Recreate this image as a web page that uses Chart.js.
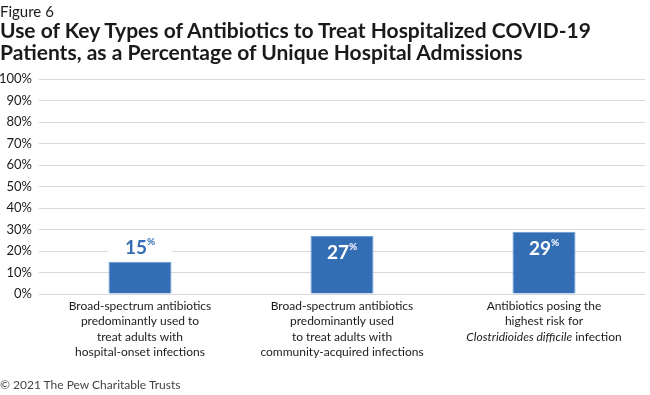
<!DOCTYPE html>
<html lang="en">
<head>
    <meta charset="UTF-8">
    <title>Figure 6</title>
    <script src="https://cdn.jsdelivr.net/npm/chart.js"></script>
    <style>
        body {
            margin: 0;
            width: 650px;
            height: 395px;
            position: relative;
            background: #fff;
            font-family: 'Lato', sans-serif;
            color: #1a1a1a;
            overflow: hidden;
        }
        #chart {
            position: absolute;
            left: 0;
            top: 0;
        }
        .fig {
            position: absolute;
            left: 0;
            top: 2px;
            font-size: 15px;
        }
        .title {
            position: absolute;
            left: 0;
            top: 19px;
            font-size: 21px;
            font-weight: 700;
            line-height: 22px;
        }
        .source {
            position: absolute;
            left: 0;
            top: 377px;
            font-size: 12px;
            color: #444;
        }
    </style>
</head>
<body>
    <canvas id="chart" width="650" height="395"></canvas>
    <div class="fig">Figure 6</div>
    <div class="title">Use of Key Types of Antibiotics to Treat Hospitalized COVID-19<br>Patients, as a Percentage of Unique Hospital Admissions</div>
    <div class="source">© 2021 The Pew Charitable Trusts</div>

    <script>
        // data
        const categories = [
            ['Broad-spectrum antibiotics', 'predominantly used to', 'treat adults with', 'hospital-onset infections'],
            ['Broad-spectrum antibiotics', 'predominantly used', 'to treat adults with', 'community-acquired infections'],
            ['Antibiotics posing the', 'highest risk for', 'Clostridioides difficile infection']
        ];
        const italicPhrase = 'Clostridioides difficile';
        const values = [15, 27, 29];
        const yTicks = [0, 10, 20, 30, 40, 50, 60, 70, 80, 90, 100];

        const blue = '#336eb4';

        // value labels: small bars get it on top, others inside
        const valueLabels = {
            id: 'valueLabels',
            afterDatasetsDraw(chart) {
                const ctx = chart.ctx;
                const meta = chart.getDatasetMeta(0);
                meta.data.forEach((bar, i) => {
                    const num = String(values[i]);
                    ctx.save();
                    ctx.font = 'bold 19px Lato';
                    const w1 = ctx.measureText(num).width;
                    ctx.font = 'bold 10px Lato';
                    const w2 = ctx.measureText('%').width;
                    const x0 = bar.x - (w1 + w2) / 2;
                    let midY, color;
                    if (values[i] < 20) {
                        midY = bar.y - 14;
                        color = blue;
                        ctx.fillStyle = '#fff';
                        ctx.fillRect(bar.x - bar.width / 2, bar.y - 27, bar.width, 24);
                    } else {
                        midY = bar.y + 17;
                        color = '#fff';
                    }
                    ctx.fillStyle = color;
                    ctx.textBaseline = 'middle';
                    ctx.textAlign = 'left';
                    ctx.font = 'bold 19px Lato';
                    ctx.fillText(num, x0, midY);
                    ctx.font = 'bold 10px Lato';
                    ctx.fillText('%', x0 + w1, midY - 6);
                    ctx.restore();
                });
            }
        };

        // category labels under the axis (last one has italic species name)
        const catLabels = {
            id: 'catLabels',
            afterDraw(chart) {
                const ctx = chart.ctx;
                const xs = chart.scales.x;
                ctx.save();
                ctx.fillStyle = '#1a1a1a';
                ctx.textBaseline = 'middle';
                categories.forEach((lines, i) => {
                    const cx = xs.getPixelForValue(i);
                    lines.forEach((line, j) => {
                        const y = 306 + j * 15.5;
                        if (line.startsWith(italicPhrase)) {
                            const rest = line.slice(italicPhrase.length);
                            ctx.font = 'italic 12px Lato';
                            const wa = ctx.measureText(italicPhrase).width;
                            ctx.font = '12px Lato';
                            const wb = ctx.measureText(rest).width;
                            const sx = cx - (wa + wb) / 2;
                            ctx.textAlign = 'left';
                            ctx.font = 'italic 12px Lato';
                            ctx.fillText(italicPhrase, sx, y);
                            ctx.font = '12px Lato';
                            ctx.fillText(rest, sx + wa, y);
                        } else {
                            ctx.textAlign = 'center';
                            ctx.font = '12px Lato';
                            ctx.fillText(line, cx, y);
                        }
                    });
                });
                ctx.restore();
            }
        };

        new Chart(document.getElementById('chart'), {
            type: 'bar',
            data: {
                labels: categories.map(c => c.join(' ')),
                datasets: [{
                    data: values,
                    backgroundColor: blue,
                    borderColor: '#6b9bd8',
                    borderWidth: 1,
                    barPercentage: 0.312,
                    categoryPercentage: 1
                }]
            },
            options: {
                responsive: false,
                animation: false,
                devicePixelRatio: 1,
                layout: { padding: { top: 79, right: 5, left: 0, bottom: 0 } },
                plugins: {
                    legend: { display: false },
                    tooltip: { enabled: false }
                },
                scales: {
                    x: {
                        grid: { display: false },
                        border: { display: false },
                        ticks: { display: false },
                        afterFit: s => { s.height = 101; }
                    },
                    y: {
                        min: 0,
                        max: 100,
                        afterBuildTicks: s => { s.ticks = yTicks.map(v => ({ value: v })); },
                        grid: { color: '#d9d9d9', drawTicks: false },
                        border: { display: false },
                        ticks: {
                            padding: 7,
                            color: '#1a1a1a',
                            font: { family: 'Lato', size: 13 },
                            callback: v => v + '%'
                        },
                        afterFit: s => { s.width = 39; }
                    }
                }
            },
            plugins: [valueLabels, catLabels]
        });
    </script>
</body>
</html>
